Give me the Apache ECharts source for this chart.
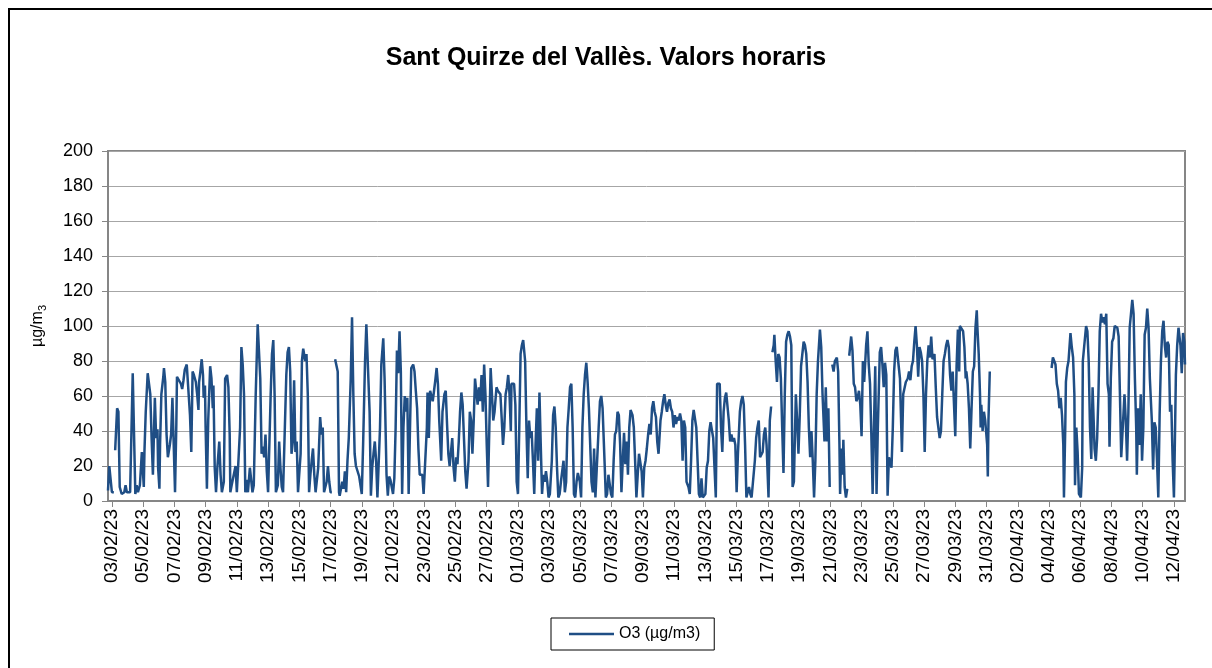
<!DOCTYPE html>
<html>
<head>
<meta charset="utf-8">
<title>Sant Quirze del Vallès. Valors horaris</title>
<script src="https://cdn.jsdelivr.net/npm/echarts@6/dist/echarts.min.js"></script>
<style>
  html, body { margin: 0; padding: 0; background: #fff; }
  #chart { width: 1212px; height: 668px; }
</style>
</head>
<body>
<div id="chart"></div>
<script>
// tick labels, one every 48 h starting 03/02/23 00:00 (hour 0)
var dateLabels = ["03/02/23", "05/02/23", "07/02/23", "09/02/23", "11/02/23", "13/02/23", "15/02/23",
  "17/02/23", "19/02/23", "21/02/23", "23/02/23", "25/02/23", "27/02/23", "01/03/23", "03/03/23",
  "05/03/23", "07/03/23", "09/03/23", "11/03/23", "13/03/23", "15/03/23", "17/03/23", "19/03/23",
  "21/03/23", "23/03/23", "25/03/23", "27/03/23", "29/03/23", "31/03/23", "02/04/23", "04/04/23",
  "06/04/23", "08/04/23", "10/04/23", "12/04/23"];

// O3 readings [hour since 03/02/23 00:00, µg/m3], split where the record has gaps
var run1 = [[-6,6],[-4,20],[0,5],[3,5]];
var run2 = [[5,29],[8,53],[10,51],[12,8],[15,4],[19,5],[21,9],[23,5],[26,5],[28,5],[32,73],[36,4],[38,9],[40,5],[43,9],[46,28],[49,8],[50,28],[52,51],[55,73],[57,72],[59,61],[61,36],[63,15],[66,59],[68,36],[70,41],[71,19],[73,7],[74,32],[76,61],[79,71],[80,76],[82,68],[84,38],[86,25],[89,32],[91,38],[93,59],[95,32],[97,5],[99,44],[100,71],[103,70],[106,67],[108,64],[110,69],[112,75],[115,78],[118,77],[120,49],[122,28],[124,74],[126,72],[129,68],[131,61],[133,52],[134,68],[136,74],[138,81],[140,72],[141,59],[143,66],[144,42],[146,7],[148,46],[151,77],[153,70],[155,53],[156,66],[158,19],[160,5],[162,19],[165,34],[167,15],[169,5],[172,11],[174,70],[177,72],
  [179,65],[181,38],[182,5],[184,9],[187,8],[190,20],[192,5],[195,5],[197,42],[199,88],[201,78],[203,61],[205,5],[207,12],[209,5],[212,19],[214,20],[216,5],[218,9],[221,61],[224,101],[226,100],[228,70],[230,27],[232,31],[234,25],[236,38],[238,17],[240,5],[242,5],[244,61],[246,84],[248,92],[250,61],[252,5],[255,9],[257,34],[259,19],[261,8],[263,5],[265,5],[268,72],[270,85],[272,88],[274,74],[276,27],[278,34],[280,69],[282,28],[284,34],[286,5],[288,5],[290,27],[292,80],[294,87],[297,80],[299,84],[301,61],[303,5],[305,15],[307,23],[309,30],[311,15],[313,5],[315,5],[317,19],[320,48],[322,38],[324,42],[326,5],[328,5],[330,11],[332,20],[334,11],[336,5],[338,5]];
var run3 = [[343,81],[345,82],[347,74],[349,5],[350,3],[352,4],[354,11],[356,7],[358,17],[360,5],[362,23],[364,36],[367,70],[369,105],[371,61],[373,27],[375,20],[378,19],[380,14],[382,13],[384,4],[386,32],[389,80],[391,101],[394,100],[396,51],[398,3],[400,19],[402,27],[404,34],[406,23],[408,2],[410,3],[412,42],[414,78],[417,93],[419,70],[422,15],[424,3],[426,14],[428,12],[430,8],[432,4],[434,13],[436,42],[438,86],[440,73],[442,97],[444,74],[446,4],[448,42],[450,60],[452,51],[454,59],[456,4],[458,5],[460,76],[463,78],[465,74],[467,63],[469,53],[471,30],[473,15],[475,16],[477,15],[479,4],[482,3],[484,42],[485,62],[487,36],[489,63],[491,63],[493,57],[495,63],[497,69],[499,76],[501,67],[503,46],[506,23],[508,51],[511,61],[513,63],[515,44],[517,27],[519,20],[521,28],[523,36],[525,19],[527,11],[529,25],[531,21],[533,34],[535,51],[537,62],[539,55],[541,36],[543,17],[545,7],[548,23],[550,51],[552,46],
  [554,27],[556,46],[558,70],[560,69],[562,55],[564,65],[566,57],[568,72],[570,51],[572,78],[574,61],[576,32],[578,8],[580,42],[582,76],[584,61],[586,46],[588,51],[591,65],[593,63],[595,62],[597,61],[599,47],[601,32],[603,42],[605,61],[607,65],[609,72],[611,61],[613,40],[614,67],[616,68],[618,67],[620,55],[622,11],[624,4],[626,42],[628,84],[630,89],[632,92],[635,80],[637,42],[639,13],[641,46],[643,36],[645,40],[647,23],[649,4],[651,32],[653,53],[655,23],[657,62],[659,32],[661,4],[663,15],[665,11],[667,17],[669,11],[671,2],[673,4],[676,23],[678,49],[680,54],[682,42],[684,19],[686,2],[688,4],[690,11],[692,17],[694,23],[696,5],[698,11],[700,42],[702,53],[704,65],[706,67],[708,42],[710,4],[712,2],[714,11],[716,16],[719,11],[721,2],[723,42],[725,61],[727,72],[729,79],[731,68],[733,53],[735,32],[737,11],[739,5],
  [741,30],[743,2],[746,3],[748,42],[750,57],[752,60],[754,53],[757,23],[759,2],[761,4],[763,15],[765,16],[767,4],[769,2],[771,23],[773,38],[775,40],[777,51],[779,49],[781,32],[783,5],[785,23],[787,39],[789,21],[791,34],[793,15],[795,42],[797,52],[800,49],[802,42],[804,23],[806,2],[808,15],[810,27],[812,28],[814,17],[816,2],[818,19],[820,23],[822,30],[824,38],[826,44],[828,38],[830,53],[832,57],[834,51],[836,48],[838,34],[840,27],[843,46],[845,51],[847,57],[849,61],[851,55],[853,51],[855,56],[857,58],[859,53],[861,51],[863,42],[865,49],[867,44],[869,48],[871,46],[873,50],[875,46],[877,23],[879,46],[881,42],[883,11],[886,8],[888,4],[890,23],[892,46],[894,52],[896,51],[898,42],[900,23],[902,4],[904,2],[906,13],[908,2],[910,1],[912,4],[914,19],[916,23],[918,40],[920,45],[922,46],[924,36],[926,19],
  [928,2],[930,67],[932,66],[934,67],[936,42],[938,28],[940,51],[942,59],[944,62],[946,63],[948,46],[950,34],[952,38],[954,34],[956,36],[958,32],[960,5],[962,27],[965,51],[967,57],[969,60],[971,55],[973,32],[975,2],[977,5],[979,8],[981,4],[983,2],[986,1],[988,23],[990,36],[992,42],[994,46],[996,25],[998,25],[1000,28],[1002,38],[1004,42],[1006,32],[1009,2],[1011,46],[1013,54]];
var run4 = [[1015,85],[1017,89],[1018,95],[1020,80],[1022,68],[1024,84],[1026,82],[1028,70],[1030,42],[1032,16],[1034,61],[1036,91],[1038,95],[1040,97],[1042,94],[1044,89],[1046,8],[1048,11],[1051,61],[1053,46],[1055,27],[1057,49],[1059,77],[1061,84],[1063,91],[1065,89],[1067,84],[1069,68],[1071,42],[1073,25],[1075,40],[1077,23],[1079,2],[1081,23],[1083,61],[1085,80],[1088,98],[1090,88],[1092,61],[1095,34],[1097,65],[1099,34],[1101,53],[1103,8]];
var run5 = [[1107,78],[1109,74],[1111,80],[1114,82],[1116,74],[1118,32],[1119,4],[1121,30],[1123,15],[1124,35],[1126,8],[1128,2],[1130,7]];
var run6 = [[1133,83],[1136,94],[1138,86],[1140,67],[1142,65],[1144,57],[1146,59],[1148,63],[1150,55],[1152,37],[1154,80],[1156,68],[1159,89],[1161,97],[1163,78],[1165,67],[1167,38],[1169,4],[1171,42],[1173,77],[1175,4],[1177,42],[1180,85],[1182,88],[1184,78],[1186,65],[1188,79],[1190,72],[1192,3],[1194,25],[1196,25],[1198,19],[1200,42],[1202,74],[1204,86],[1206,88],[1209,88],[1211,70],[1213,42],[1214,28],[1216,61],[1218,62],[1220,68],[1223,70],[1225,74],[1227,69],[1229,77],[1231,80],[1233,91],[1235,100],[1237,89],[1239,71],[1241,88],[1243,85],[1245,80],[1247,61],[1249,28],[1251,61],[1253,80],[1255,89],[1257,82],[1259,94],[1261,81],[1264,84],[1266,65],[1268,48],[1270,42],[1272,36],[1274,40],[1276,61],[1278,80],[1280,84],[1282,89],[1284,92],[1286,88],[1288,72],[1290,63],[1292,74],[1294,74],[1296,37],[1298,77],[1300,98],[1302,74],[1303,100],[1306,99],[1308,97],[1310,88],[1312,70],[1313,74],[1315,67],[1317,53],[1319,30],[1321,53],[1323,74],[1325,77],[1327,99],[1329,109],[1330,99],[1332,84],[1334,61],[1335,42],[1336,55],[1338,40],[1340,51],[1342,46],[1345,32],[1346,14],[1347,46],[1349,74]];
var run7 = [[1444,76],[1446,82],[1448,83],[1450,78],[1452,67],[1454,63],[1456,53],[1458,59],[1460,49],[1462,32],[1463,2],[1465,42],[1466,68],[1468,76],[1470,80],[1473,96],[1475,88],[1477,82],[1479,61],[1480,9],[1482,42],[1484,28],[1486,4],[1489,2],[1491,19],[1492,80],[1493,84],[1497,100],[1499,97],[1501,80],[1503,42],[1505,24],[1507,65],[1510,30],[1512,23],[1514,36],[1516,61],[1518,97],[1520,107],[1522,102],[1524,105],[1526,101],[1528,107],[1530,67],[1532,61],[1533,31],[1535,70],[1537,91],[1539,93],[1541,100],[1543,101],[1545,99],[1547,94],[1549,61],[1551,25],[1553,25],[1556,61],[1558,46],[1560,23],[1562,51],[1564,99],[1566,107],[1568,115],[1570,107],[1572,70],[1574,42],[1575,15],[1577,53],[1579,32],[1581,61],[1583,23],[1585,42],[1587,95],[1589,99],[1591,110],[1593,99],[1595,70],[1598,46],[1600,18],[1602,45],[1604,42],[1606,23],[1608,2],[1610,49],[1612,80],[1614,97],[1616,103],[1618,89],[1620,82],[1622,91],[1624,89],[1626,51],[1628,55],[1630,23],[1632,2],[1633,23],[1635,72],[1637,89],[1639,99],[1642,89],[1644,73],[1646,96],[1648,91],[1649,78]];

var runs = [run1, run2, run3, run4, run5, run6, run7];
var o3Data = [];
runs.forEach(function (r, i) {
  if (i > 0) o3Data.push([r[0][0] - 1, '-']);
  o3Data = o3Data.concat(r);
});

var tickHours = dateLabels.map(function (d, i) { return i * 48; });

var font = "'Liberation Sans', Arial, sans-serif";
var myChart = echarts.init(document.getElementById("chart"));

var option = {
  animation: false,
  backgroundColor: "#fff",
  textStyle: { fontFamily: font },
  title: {
    text: "Sant Quirze del Vallès. Valors horaris",
    left: "center",
    top: 41,
    textStyle: { fontSize: 25, fontWeight: "bold", color: "#000", fontFamily: font }
  },
  graphic: [
    {
      type: "rect",
      shape: { x: 9, y: 9, width: 1230, height: 700 },
      style: { fill: "none", stroke: "#000", lineWidth: 2 }
    }
  ],
  legend: {
    left: 551,
    top: 618,
    padding: [8, 14, 8, 18],
    icon: "rect",
    itemWidth: 45,
    itemHeight: 2.5,
    borderColor: "#000",
    borderWidth: 1,
    textStyle: { fontSize: 16, color: "#000", fontFamily: font },
    data: ["O3 (µg/m3)"]
  },
  grid: {
    show: true,
    left: 108,
    right: 27,
    top: 151,
    bottom: 167,
    borderColor: "#868686",
    borderWidth: 2,
    containLabel: false
  },
  xAxis: {
    type: "value",
    min: -6,
    max: 1649,
    axisLine: { show: true, lineStyle: { color: "#868686", width: 2 } },
    axisTick: { show: true, customValues: tickHours, length: 6, lineStyle: { color: "#868686" } },
    axisLabel: {
      customValues: tickHours,
      rotate: 90,
      margin: 8,
      fontSize: 19,
      color: "#000",
      fontFamily: font,
      formatter: function (v) { return dateLabels[Math.round(v / 48)] || ""; }
    },
    splitLine: { show: false }
  },
  yAxis: {
    type: "value",
    min: 0,
    max: 200,
    interval: 20,
    name: "{a|µg/m}{b|3}",
    nameLocation: "middle",
    nameGap: 60,
    nameTextStyle: {
      rich: {
        a: { fontSize: 16, color: "#000", fontFamily: font },
        b: { fontSize: 11, color: "#000", fontFamily: font, padding: [9, 0, 0, 0] }
      }
    },
    axisLine: { show: true, onZero: false, lineStyle: { color: "#868686", width: 2 } },
    axisTick: { show: true, length: 6, lineStyle: { color: "#868686" } },
    axisLabel: { margin: 15, fontSize: 18, color: "#000", fontFamily: font },
    splitLine: { show: true, lineStyle: { color: "#a6a6a6", width: 1 } }
  },
  series: [
    {
      name: "O3 (µg/m3)",
      type: "line",
      symbol: "none",
      connectNulls: false,
      data: o3Data,
      lineStyle: { color: "#1f4e85", width: 2.5 },
      itemStyle: { color: "#1f4e85" }
    }
  ]
};
myChart.setOption(option);

window.addEventListener("resize", function () {
  myChart.resize();
});
</script>
</body>
</html>
